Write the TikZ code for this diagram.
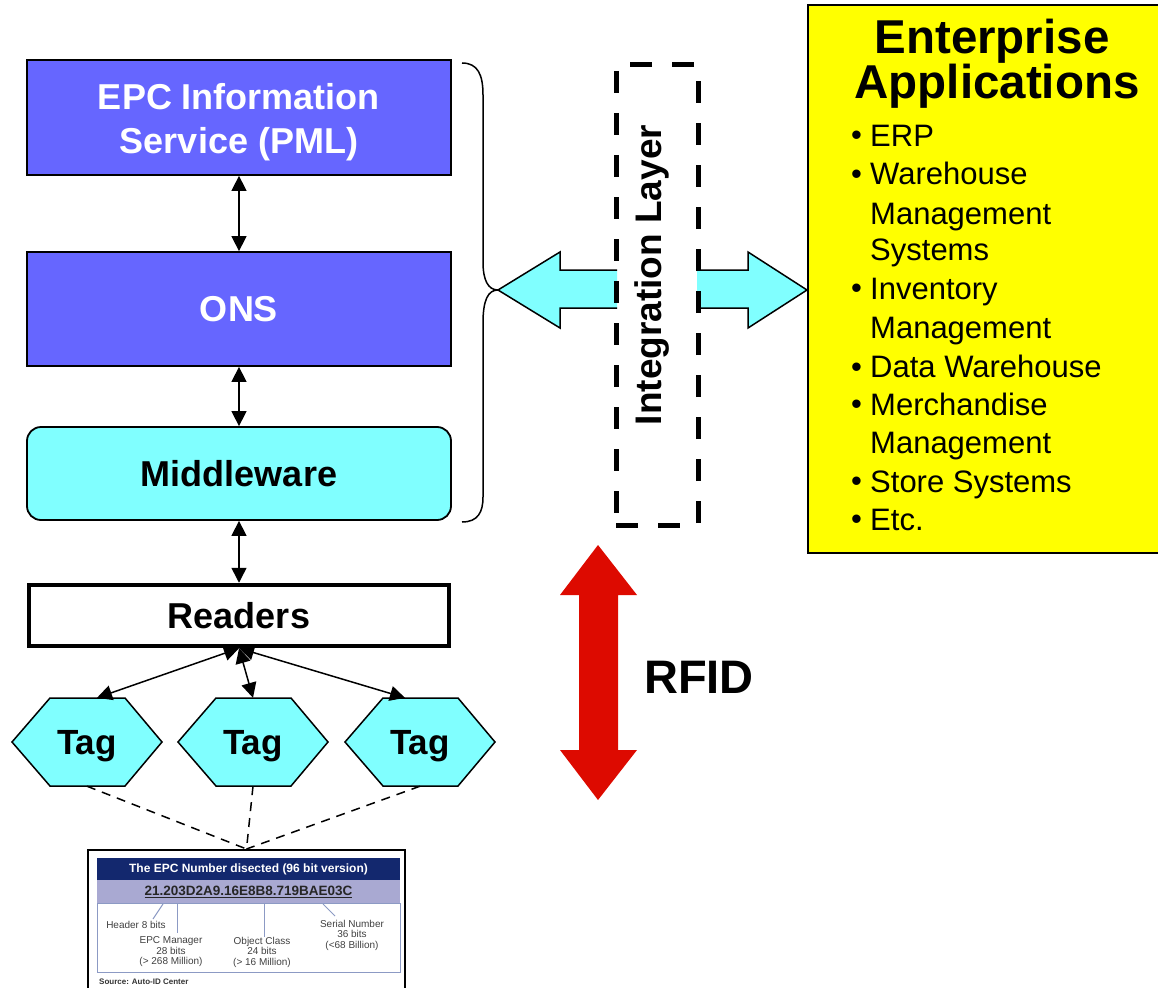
\documentclass[tikz,border=0pt]{standalone}
\usepackage{fontspec}
\setmainfont{Liberation Sans}
\usetikzlibrary{arrows.meta}

\definecolor{epcblue}{HTML}{6666FF}
\definecolor{epccyan}{HTML}{80FFFF}
\definecolor{appyellow}{HTML}{FFFF00}
\definecolor{rfidred}{HTML}{DD0A00}
\definecolor{picnavy}{HTML}{13286E}
\definecolor{piclilac}{HTML}{A9A9D2}
\definecolor{picline}{HTML}{8C9AC4}

\tikzset{
  layerbox/.style={draw, line width=1.8pt, minimum width=424pt, inner sep=0pt,
    align=center, font=\bfseries\fontsize{36}{44}\selectfont},
  link/.style={line width=1.5pt,
    {Triangle[width=15pt,length=15pt]}-{Triangle[width=15pt,length=15pt]}},
  tagtext/.style={minimum width=150pt, minimum height=88pt, inner sep=0pt,
    text height=25pt, text depth=0pt, font=\bfseries\fontsize{35}{40}\selectfont},
  taglink/.style={line width=1.5pt, dash pattern=on 9pt off 7pt},
  blockarrow/.style={line width=1.5pt, line join=miter},
  applist/.style={anchor=base west, inner sep=0pt, font=\fontsize{31}{38}\selectfont},
  piclabel/.style={align=center, inner sep=0pt, text=black!75,
    font=\fontsize{10}{10.5}\selectfont}
}

\begin{document}
\begin{tikzpicture}[x=1pt,y=-1pt]
  \useasboundingbox (0,0) rectangle (1158,987);

  \node[layerbox, fill=epcblue, minimum height=115pt] (epcis) at (239,117.5) {};
  \node[align=center, inner sep=0pt, text=white, font=\bfseries\fontsize{36}{44}\selectfont]
    (epcistxt) at (239,122) {EPC Information\\Service (PML)};
  \node[layerbox, fill=epcblue, text=white, minimum height=114pt] (ons) at (239,309) {ONS};
  \node[layerbox, fill=epccyan, rounded corners=14pt, minimum height=93pt] (middle) at (239,473.5)
    {Middleware};
  \node[layerbox, line width=4.5pt, fill=white, minimum width=420pt, minimum height=61pt] (readers)
    at (239,615.5) {Readers};

  \draw[link] (epcis.south) -- (ons.north);
  \draw[link] (ons.south) -- (middle.north);
  \draw[link] (middle.south) -- (readers.north);

  \foreach \i/\x in {1/87,2/253,3/420} {
    \filldraw[fill=epccyan, line width=1.5pt] (\x-75,742) -- (\x-37,698) -- (\x+38,698)
      -- (\x+75,742) -- (\x+38,786) -- (\x-37,786) -- cycle;
    \node[tagtext] (tag\i) at (\x,742) {Tag};
  }
  \draw[link] (readers.south) -- ([xshift=10pt]tag1.north);
  \draw[link] (readers.south) -- (tag2.north);
  \draw[link] (readers.south) -- ([xshift=-15pt]tag3.north);

  % EPC number picture
  \node[draw, line width=1.5pt, minimum width=317pt, minimum height=150pt, anchor=north]
    (epcpic) at (246.5,849) {};
  \draw[taglink] (tag1.south) -- (epcpic.north);
  \draw[taglink] (tag2.south) -- (epcpic.north);
  \draw[taglink] (tag3.south) -- (epcpic.north);
  \fill[picnavy] (97,858) rectangle (400,880);
  \node[text=white, inner sep=0pt, font=\bfseries\fontsize{12}{13}\selectfont] (pichead)
    at (248.5,869) {The EPC Number disected (96 bit version)};
  \fill[piclilac] (97,880) rectangle (400,903);
  \node[inner sep=0pt, text=black!85, font=\bfseries\fontsize{13.5}{14}\selectfont] (picnum)
    at (248.5,891.5) {\underline{21.203D2A9.16E8B8.719BAE03C}};
  \draw[picline, line width=0.8pt] (97,903) rectangle (400,972);
  \node[piclabel] (pichdr) at (136,925) {Header 8 bits};
  \node[piclabel] (picmgr) at (171,952) {EPC Manager\\28 bits\\(> 268 Million)};
  \node[piclabel] (piccls) at (262,952) {Object Class\\24 bits\\(> 16 Million)};
  \node[piclabel] (picser) at (352,935) {Serial Number\\36 bits\\(<68 Billion)};
  \draw[picline, line width=1pt] (163,904) -- (153,919);
  \draw[picline, line width=1pt] (177,904) -- (177,933);
  \draw[picline, line width=1pt] (264,904) -- (264,937);
  \draw[picline, line width=1pt] (323,904) -- (335,916);
  \node[anchor=west, inner sep=0pt, text=black!80, font=\bfseries\fontsize{8}{9}\selectfont]
    (picsrc) at (99,982) {Source: Auto-ID Center};

  % brace and integration layer
  \draw[line width=1.5pt] (462,63) .. controls (478,63) and (483,75) .. (483,95) -- (483,262)
    .. controls (483,280) and (488,290) .. (498,290);
  \draw[line width=1.5pt] (498,290) .. controls (488,290) and (483,300) .. (483,323)
    -- (483,497) .. controls (483,512) and (478,522) .. (462,522);

  \fill[epccyan] (617,270) -- (560,270) -- (560,252) -- (498,290) -- (560,328) -- (560,308)
    -- (617,308) -- cycle;
  \draw[blockarrow] (617,270) -- (560,270) -- (560,252) -- (498,290) -- (560,328) -- (560,308)
    -- (617,308);
  \fill[epccyan] (697,270) -- (748,270) -- (748,252) -- (807,290) -- (748,328) -- (748,308)
    -- (697,308) -- cycle;
  \draw[blockarrow] (697,270) -- (748,270) -- (748,252) -- (807,290) -- (748,328) -- (748,308)
    -- (697,308);

  \node[draw, line width=5pt, dash pattern=on 22pt off 20pt, minimum width=82pt,
    minimum height=460pt] (intlayer) at (657,295) {};
  \node[rotate=90, inner sep=0pt, font=\bfseries\fontsize{37}{40}\selectfont] (inttext)
    at (652,275) {Integration Layer};

  % enterprise applications
  \node[draw, line width=2pt, fill=appyellow, minimum width=354pt, minimum height=548pt,
    inner sep=0pt] (apps) at (985,279) {};
  \node[anchor=base, inner sep=0pt, font=\bfseries\fontsize{47.5}{48}\selectfont] (apptitle1)
    at (992,54) {Enterprise};
  \node[anchor=base, inner sep=0pt, font=\bfseries\fontsize{47.5}{48}\selectfont] (apptitle2)
    at (997,99) {Applications};
  \foreach \yy in {146,184,298,377,414,491,529}
    \node[applist] (dot\yy) at (851,\yy) {•};
  \foreach \txt/\yy in {ERP/147,Warehouse/185,Management/224,Systems/260,Inventory/299,
      Management/338,Data Warehouse/377,Merchandise/415,Management/453,Store Systems/492,Etc./530}
    \node[applist] (item\yy) at (870,\yy) {\txt};

  % RFID
  \fill[rfidred] (598,545) -- (637,595) -- (618,595) -- (618,750) -- (637,750) -- (598,800)
    -- (560,750) -- (579,750) -- (579,595) -- (560,595) -- cycle;
  \node[anchor=base west, inner sep=0pt, font=\bfseries\fontsize{47}{50}\selectfont] (rfid)
    at (644,693) {RFID};
\end{tikzpicture}
\end{document}
